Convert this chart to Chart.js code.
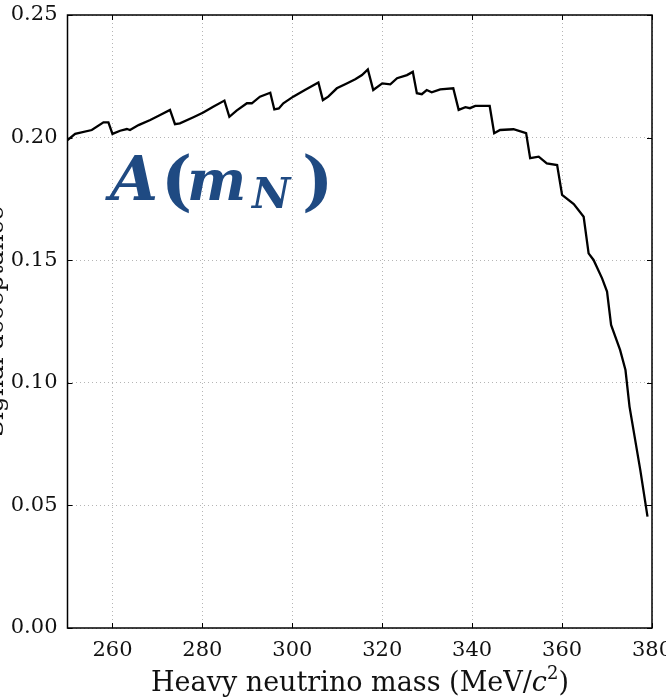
<!DOCTYPE html>
<html lang="en">
<head>
    <meta charset="UTF-8">
    <title>Signal acceptance vs heavy neutrino mass</title>
    <script src="https://cdn.jsdelivr.net/npm/chart.js@4.4.1/dist/chart.umd.min.js"></script>
    <style>
        html, body { margin: 0; padding: 0; background: #fff; }
        .chart-container { width: 666px; height: 700px; position: relative; }
    </style>
</head>
<body>
    <div class="chart-container">
        <canvas id="myChart" width="666" height="700"></canvas>
    </div>

    <script>
        // Data (mass in MeV/c^2, acceptance)
        const massValues = [
            250, 251.7, 255.4, 258, 259.1, 260, 261.7, 263.2, 263.9, 265.8,
            268.4, 270.6, 272.8, 273.9, 275, 278, 280.2, 282.4, 284.9, 286,
            287.6, 289.9, 291, 292.8, 295.1, 296, 297, 298, 300.2, 302.8,
            305.8, 306.8, 308, 309.9, 312.1, 314, 315.5, 316.8, 318, 320,
            321.8, 323.3, 325.5, 326.8, 327.7, 328.8, 329.9, 331, 332.9, 335.8,
            337, 338.5, 339.5, 340.7, 343.9, 344.9, 346.2, 349.2, 352, 352.9,
            354.8, 356.6, 358.9, 360, 362.6, 364.8, 365.9, 367, 368.9, 370,
            370.9, 372.9, 374.1, 375, 377.4, 379
        ];
        const acceptance = [
            0.1990, 0.2015, 0.2031, 0.2062, 0.2062, 0.2015, 0.2028, 0.2035, 0.2031, 0.2051,
            0.2072, 0.2092, 0.2113, 0.2055, 0.2058, 0.2083, 0.2102, 0.2126, 0.2151, 0.2085,
            0.2110, 0.2140, 0.2140, 0.2167, 0.2183, 0.2115, 0.2119, 0.2140, 0.2167, 0.2194,
            0.2225, 0.2153, 0.2167, 0.2201, 0.2221, 0.2238, 0.2255, 0.2278, 0.2194, 0.2221,
            0.2217, 0.2242, 0.2255, 0.2268, 0.2181, 0.2177, 0.2194, 0.2185, 0.2197, 0.2201,
            0.2113, 0.2124, 0.2120, 0.2129, 0.2129, 0.2018, 0.2031, 0.2034, 0.2018, 0.1916,
            0.1922, 0.1895, 0.1888, 0.1766, 0.1729, 0.1677, 0.1528, 0.1501, 0.1426, 0.1372,
            0.1236, 0.1134, 0.1052, 0.0903, 0.0644, 0.0454
        ];
        const xTickValues = [260, 280, 300, 320, 340, 360, 380];
        const yTickValues = [0, 0.05, 0.10, 0.15, 0.20, 0.25];

        const serif = '"DejaVu Serif", serif';

        // Frame, inward ticks, axis titles and the A(m_N) annotation
        const decorations = {
            id: 'decorations',
            afterDraw(chart) {
                const ctx = chart.ctx;
                const area = chart.chartArea;
                const xs = chart.scales.x;
                const ys = chart.scales.y;
                ctx.save();

                // inward tick marks on all four sides
                ctx.strokeStyle = '#000';
                ctx.lineWidth = 1;
                ctx.beginPath();
                xTickValues.forEach(v => {
                    const px = Math.round(xs.getPixelForValue(v)) + 0.5;
                    ctx.moveTo(px, area.bottom); ctx.lineTo(px, area.bottom - 5);
                    ctx.moveTo(px, area.top); ctx.lineTo(px, area.top + 5);
                });
                yTickValues.forEach(v => {
                    const py = Math.round(ys.getPixelForValue(v)) + 0.5;
                    ctx.moveTo(area.left, py); ctx.lineTo(area.left + 5, py);
                    ctx.moveTo(area.right, py); ctx.lineTo(area.right - 5, py);
                });
                ctx.stroke();

                // frame
                ctx.lineWidth = 1.5;
                ctx.strokeRect(area.left, area.top, area.right - area.left, area.bottom - area.top);

                // x title with italic c and superscript 2
                ctx.fillStyle = '#111';
                ctx.textBaseline = 'alphabetic';
                ctx.textAlign = 'left';
                const parts = [
                    { t: 'Heavy neutrino mass (MeV/', f: '27px ' + serif, dy: 0 },
                    { t: 'c', f: 'italic 27px ' + serif, dy: 0 },
                    { t: '2', f: '18px ' + serif, dy: -12 },
                    { t: ')', f: '27px ' + serif, dy: 0 }
                ];
                let total = 0;
                parts.forEach(p => { ctx.font = p.f; p.w = ctx.measureText(p.t).width; total += p.w; });
                let x = 360 - total / 2;
                const base = 691;
                parts.forEach(p => { ctx.font = p.f; ctx.fillText(p.t, x, base + p.dy); x += p.w; });

                // y title, mostly outside the canvas as in the reference
                ctx.save();
                ctx.translate(3, (area.top + area.bottom) / 2);
                ctx.rotate(-Math.PI / 2);
                ctx.textAlign = 'center';
                ctx.font = '25px ' + serif;
                ctx.fillText('Signal acceptance', 0, 0);
                ctx.restore();

                // annotation A(m_N)
                ctx.fillStyle = '#1f4a82';
                const ann = [
                    { t: 'A', f: 'italic bold 62px ' + serif, x: 110, y: 200 },
                    { t: '(', f: 'bold 66px ' + serif, x: 161, y: 203 },
                    { t: 'm', f: 'italic bold 56px ' + serif, x: 187, y: 200 },
                    { t: 'N', f: 'italic bold 42px ' + serif, x: 252, y: 208 },
                    { t: ')', f: 'bold 66px ' + serif, x: 302, y: 203 }
                ];
                ann.forEach(p => {
                    ctx.font = p.f;
                    ctx.fillText(p.t, p.x, p.y);
                });

                ctx.restore();
            }
        };

        document.addEventListener('DOMContentLoaded', function() {
            const ctx = document.getElementById('myChart').getContext('2d');
            const points = massValues.map((m, i) => ({ x: m, y: acceptance[i] }));

            new Chart(ctx, {
                type: 'line',
                data: {
                    datasets: [{
                        label: 'Signal acceptance',
                        data: points,
                        borderColor: '#000',
                        borderWidth: 2.3,
                        pointRadius: 0,
                        tension: 0,
                        fill: false
                    }]
                },
                options: {
                    responsive: false,
                    animation: false,
                    layout: { padding: { top: 15, right: 14, left: 0, bottom: 0 } },
                    plugins: {
                        legend: { display: false },
                        tooltip: { enabled: false }
                    },
                    scales: {
                        x: {
                            type: 'linear',
                            min: 250,
                            max: 380,
                            border: { display: false, dash: [1, 3] },
                            grid: {
                                color: '#b5b5b5',
                                lineWidth: 1,
                                drawTicks: false
                            },
                            ticks: {
                                padding: 10,
                                color: '#111',
                                font: { family: serif, size: 21 },
                                maxRotation: 0,
                                autoSkip: false
                            },
                            afterBuildTicks: scale => {
                                scale.ticks = xTickValues.map(v => ({ value: v }));
                            },
                            afterFit: scale => {
                                scale.height = 72;
                                scale.paddingLeft = 0;
                                scale.paddingRight = 0;
                            }
                        },
                        y: {
                            type: 'linear',
                            min: 0,
                            max: 0.25,
                            border: { display: false, dash: [1, 3] },
                            grid: {
                                color: '#b5b5b5',
                                lineWidth: 1,
                                drawTicks: false
                            },
                            ticks: {
                                padding: 10,
                                color: '#111',
                                font: { family: serif, size: 21 },
                                callback: v => v.toFixed(2)
                            },
                            afterBuildTicks: scale => {
                                scale.ticks = yTickValues.map(v => ({ value: v }));
                            },
                            afterFit: scale => {
                                scale.width = 67.5;
                                scale.paddingTop = 0;
                                scale.paddingBottom = 0;
                            }
                        }
                    }
                },
                plugins: [decorations]
            });
        });
    </script>
</body>
</html>
